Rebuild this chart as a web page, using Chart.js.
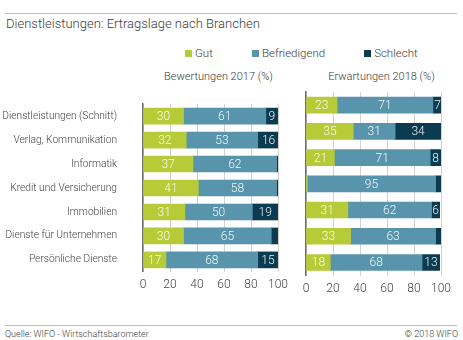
<!DOCTYPE html>
<html>
<head>
<meta charset="utf-8">
<script src="https://cdn.jsdelivr.net/npm/chart.js@4.4.1/dist/chart.umd.min.js"></script>
<style>
  body { margin: 0; background: #fff; }
  #box { position: relative; width: 463px; height: 340px; font-family: Roboto, 'Open Sans', sans-serif; font-weight: 300; color: #3c3c3c; }
  .rule { position: absolute; left: 5px; width: 452px; height: 1px; background: #bdbdbd; }
  .txt { position: absolute; white-space: nowrap; }
  #legend { position: absolute; left: 185px; top: 46px; display: flex; font-size: 11.5px; }
  #legend span.item { display: flex; align-items: center; margin-right: 39px; }
  #legend i { display: inline-block; width: 7px; height: 7px; margin-right: 3px; }
  canvas { position: absolute; }
</style>
</head>
<body>
<div id="box">
  <div class="rule" style="top:13px"></div>
  <div class="txt" style="left:6px; top:16px; font-size:13px;">Dienstleistungen: Ertragslage nach Branchen</div>
  <div id="legend"></div>
  <div class="txt" style="left:146px; width:145px; top:70px; font-size:11px; text-align:center;">Bewertungen 2017 (%)</div>
  <div class="txt" style="left:309px; width:145px; top:70px; font-size:11px; text-align:center;">Erwartungen 2018 (%)</div>
  <canvas id="links" width="290" height="216" style="left:0; top:80px; width:290px; height:216px;"></canvas>
  <canvas id="rechts" width="173" height="216" style="left:290px; top:80px; width:173px; height:216px;"></canvas>
  <div class="rule" style="top:325px"></div>
  <div class="txt" style="left:5px; top:329px; font-size:9px;">Quelle: WIFO - Wirtschaftsbarometer</div>
  <div class="txt" style="right:5px; top:329px; font-size:9px;">© 2018 WIFO</div>
</div>
<script>
// Ertragslage nach Branchen, Anteile in %
var branchen = ['Dienstleistungen (Schnitt)', 'Verlag, Kommunikation', 'Informatik', 'Kredit und Versicherung', 'Immobilien', 'Dienste für Unternehmen', 'Persönliche Dienste'];
var kategorien = ['Gut', 'Befriedigend', 'Schlecht'];
var farben = ['#b7ca38', '#5895ad', '#0b3b50'];

var gut2017 = [30, 32, 37, 41, 31, 30, 17];
var befriedigend2017 = [61, 53, 62, 58, 50, 65, 68];
var schlecht2017 = [9, 16, 1, 1, 19, 5, 15];

var gut2018 = [23, 35, 21, 1, 31, 33, 18];
var befriedigend2018 = [71, 31, 71, 95, 62, 63, 68];
var schlecht2018 = [7, 34, 8, 4, 6, 4, 13];

var achse = [0, 20, 40, 60, 80, 100];

// legende oben (gilt für beide diagramme)
var legend = document.getElementById('legend');
for (var k = 0; k < kategorien.length; k++) {
    var item = document.createElement('span');
    item.className = 'item';
    item.innerHTML = '<i style="background:' + farben[k] + '"></i>' + kategorien[k];
    legend.appendChild(item);
}

// zahlen in die balken schreiben (kleine segmente ohne zahl)
var werteImBalken = {
    id: 'werteImBalken',
    afterDatasetsDraw: function (chart) {
        var ctx = chart.ctx;
        ctx.save();
        ctx.font = '300 12px Roboto';
        ctx.fillStyle = 'rgba(255,255,255,0.92)';
        ctx.textAlign = 'center';
        ctx.textBaseline = 'middle';
        chart.data.datasets.forEach(function (ds, i) {
            chart.getDatasetMeta(i).data.forEach(function (bar, j) {
                var v = ds.data[j];
                if (v < 6) return;
                var p = bar.getCenterPoint();
                ctx.fillText(v, p.x, p.y + 1);
            });
        });
        ctx.restore();
    }
};

function datensaetze(gut, befr, schlecht) {
    return [gut, befr, schlecht].map(function (werte, k) {
        return {
            label: kategorien[k],
            data: werte,
            backgroundColor: farben[k],
            borderWidth: 0,
            barThickness: 16
        };
    });
}

function optionen(mitLabels, padding) {
    return {
        indexAxis: 'y',
        responsive: false,
        animation: false,
        layout: { padding: padding },
        plugins: { legend: { display: false }, tooltip: { enabled: false } },
        scales: {
            x: {
                stacked: true,
                min: 0,
                max: 100,
                afterBuildTicks: function (scale) {
                    scale.ticks = achse.map(function (v) { return { value: v }; });
                },
                // abstand zur beschriftung über unsichtbare tick-striche
                grid: { color: '#d2d2d2', drawTicks: true, tickLength: 6, tickColor: 'rgba(0,0,0,0)' },
                border: { display: false },
                ticks: { padding: 0, color: '#444', font: { family: 'Roboto', size: 12, weight: '300' } }
            },
            y: {
                stacked: true,
                grid: { display: false },
                border: { display: true, color: '#6f6f6f', width: 1.5 },
                afterFit: function (scale) { scale.width = mitLabels ? 143 : 0; },
                ticks: {
                    display: mitLabels,
                    padding: 18,
                    color: '#444',
                    font: { family: 'Roboto', size: 10.2, weight: '300' }
                }
            }
        }
    };
}

new Chart(document.getElementById('links').getContext('2d'), {
    type: 'bar',
    data: { labels: branchen, datasets: datensaetze(gut2017, befriedigend2017, schlecht2017) },
    options: optionen(true, { top: 12, right: 12, left: 0, bottom: 0 }),
    plugins: [werteImBalken]
});

new Chart(document.getElementById('rechts').getContext('2d'), {
    type: 'bar',
    data: { labels: branchen, datasets: datensaetze(gut2018, befriedigend2018, schlecht2018) },
    options: optionen(false, { top: 12, right: 22, left: 16, bottom: 0 }),
    plugins: [werteImBalken]
});
</script>
</body>
</html>
